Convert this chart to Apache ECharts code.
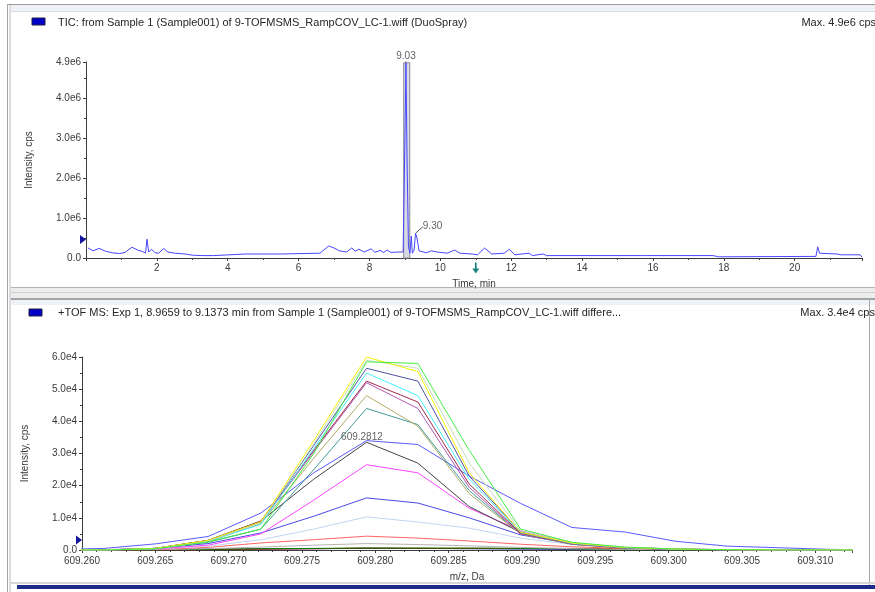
<!DOCTYPE html>
<html>
<head>
<meta charset="utf-8">
<script src="https://cdn.jsdelivr.net/npm/echarts@6/dist/echarts.min.js"></script>
<style>
html, body { margin: 0; padding: 0; background: #ffffff; }
#chart { width: 875px; height: 592px; }
</style>
</head>
<body>
<div id="chart"></div>
<script>
// ---- Total ion chromatogram (time in min, intensity in cps) ----
const ticTimes = [0.06, 0.2, 0.37, 0.55, 0.75, 0.95, 1.1, 1.3, 1.45, 1.6, 1.68, 1.72, 1.77, 1.85, 1.95, 2.05, 2.2, 2.3, 2.5, 2.8,
  3.0, 3.3, 3.6, 3.65, 4.5, 5.5, 5.55, 6.6, 6.85, 7.0, 7.15, 7.35, 7.5, 7.6, 7.7, 7.85, 8.05, 8.15, 8.3, 8.4,
  8.5, 8.6, 8.85, 8.95, 9.0, 9.03, 9.06, 9.1, 9.14, 9.18, 9.21, 9.26, 9.30, 9.34, 9.4, 9.6, 9.75, 9.9, 10.2, 10.4,
  10.55, 10.9, 11.05, 11.25, 11.45, 11.8, 11.95, 12.1, 12.5, 12.6, 12.9, 13.0, 15.7, 15.75, 15.8, 17.7, 17.85, 20.6, 20.65, 20.7,
  21.2, 21.3, 21.85, 21.9];
const ticIntensity = [250000, 180000, 240000, 170000, 130000, 110000, 140000, 270000, 200000, 160000, 120000, 470000, 150000, 220000, 130000, 120000, 240000, 150000, 120000, 100000,
  70000, 60000, 60000, 100000, 100000, 100000, 120000, 120000, 300000, 250000, 180000, 150000, 250000, 170000, 220000, 150000, 230000, 140000, 190000, 140000,
  200000, 140000, 150000, 150000, 3000000, 4880000, 2500000, 300000, 120000, 550000, 120000, 200000, 620000, 500000, 180000, 130000, 180000, 150000, 120000, 200000,
  120000, 100000, 80000, 250000, 100000, 120000, 220000, 80000, 120000, 60000, 100000, 60000, 60000, 110000, 60000, 60000, 30000, 40000, 280000, 120000,
  100000, 80000, 80000, 20000];

// Labelled TIC peaks
const ticPeakTimes = [9.03, 9.30];
const ticPeakHeights = [4880000, 620000];

// Averaged retention window for the spectrum below (min)
const integrationWindow = [8.9659, 9.1373];

// ---- Overlaid TOF MS spectra (m/z bins in Da, intensity in cps) ----
const mzBins = [609.2579, 609.2615, 609.2650, 609.2686, 609.2722, 609.2758, 609.2794, 609.2829, 609.2864,
  609.2899, 609.2934, 609.2970, 609.3005, 609.3040, 609.3075, 609.3110, 609.3145];

const scan01 = [0, 100, 200, 300, 300, 400, 500, 500, 400, 300, 200, 200, 100, 50, 50, 50, 0];
const scan02 = [0, 0, 0, 100, 300, 400, 600, 500, 500, 500, 500, 400, 100, 0, 0, 0, 0];
const scan03 = [0, 0, 0, 200, 400, 500, 600, 600, 600, 500, 400, 100, 0, 0, 0, 0, 0];
const scan04 = [0, 0, 100, 400, 900, 1500, 2000, 1700, 1300, 800, 400, 200, 80, 0, 0, 0, 0];
const scan05 = [0, 0, 200, 800, 2200, 3200, 4300, 3700, 2800, 1800, 1000, 500, 200, 50, 0, 0, 0];
const scan06 = [0, 0, 300, 1200, 3200, 6500, 10300, 8700, 6800, 3700, 1700, 700, 300, 100, 0, 0, 0];
const scan07 = [0, 100, 500, 2000, 5300, 10500, 16200, 14600, 10000, 4700, 2000, 800, 300, 100, 0, 0, 0];
const scan08 = [0, 0, 300, 1500, 5000, 15500, 26500, 24000, 13000, 6000, 2200, 800, 300, 100, 0, 0, 0];
const scan09 = [100, 500, 1900, 4200, 11500, 24000, 34000, 32800, 23000, 14500, 7000, 5600, 2700, 1200, 700, 200, 0];
const scan10 = [0, 0, 500, 3000, 9000, 22000, 33500, 27000, 13500, 5500, 1800, 600, 200, 80, 0, 0, 0];
const scan11 = [0, 0, 400, 2400, 6500, 25000, 44000, 39000, 18500, 5000, 1800, 600, 200, 80, 0, 0, 0];
const scan12 = [0, 0, 400, 2600, 8200, 28500, 48000, 38500, 17500, 5000, 1800, 600, 200, 80, 0, 0, 0];
const scan13 = [0, 0, 500, 2900, 8700, 30500, 52000, 44000, 19500, 5000, 1900, 650, 250, 80, 0, 0, 0];
const scan14 = [0, 0, 500, 3000, 9000, 31000, 52500, 46000, 20500, 5200, 1900, 700, 250, 80, 0, 0, 0];
const scan15 = [0, 0, 400, 2700, 8000, 31500, 55000, 48000, 22000, 5400, 2000, 700, 250, 80, 0, 0, 0];
const scan16 = [0, 0, 500, 2900, 8700, 32500, 56500, 52500, 23000, 5600, 2000, 700, 250, 80, 0, 0, 0];
const scan17 = [0, 0, 500, 2800, 8500, 33000, 59000, 56500, 27000, 6000, 2100, 800, 300, 100, 0, 0, 0];
const scan18 = [0, 0, 500, 3000, 8800, 34000, 60000, 55500, 24000, 5500, 2200, 800, 300, 100, 0, 0, 0];
const scan19 = [0, 0, 400, 2500, 6500, 30000, 58500, 58000, 31000, 6500, 2400, 900, 300, 100, 0, 0, 0];

// Centroid annotation of the spectrum
const centroidMz = [609.2812];
const centroidIntensity = [34000];

// ---- Text ----
const ticTitle = 'TIC: from Sample 1 (Sample001) of 9-TOFMSMS_RampCOV_LC-1.wiff (DuoSpray)';
const ticMaxText = 'Max. 4.9e6 cps';
const msTitle = '+TOF MS: Exp 1, ' + integrationWindow[0] + ' to ' + integrationWindow[1] +
  ' min from Sample 1 (Sample001) of 9-TOFMSMS_RampCOV_LC-1.wiff differe...';
const msMaxText = 'Max. 3.4e4 cps.';

// ---- Styling ----
const FONT = '"Liberation Sans", Arial, sans-serif';
const AXIS = '#3c3c3c';
const TXT = '#3a3a3a';
const TITLE = '#262626';
const scanColors = ['#101080', '#c00000', '#008000', '#b4b4b4', '#ff6464', '#c2d4f2', '#4a4ae6', '#ff44ff', '#5a5aff', '#444444',
  '#449a9a', '#b2aa66', '#b058b0', '#a02a50', '#44f0ff', '#5252a8', '#c4dcc4', '#f2f200', '#44ee44'];
const scans = [scan01, scan02, scan03, scan04, scan05, scan06, scan07, scan08, scan09, scan10,
  scan11, scan12, scan13, scan14, scan15, scan16, scan17, scan18, scan19];

function pairs(xs, ys) { return xs.map((x, i) => [x, ys[i]]); }

const labelStyle = { color: TXT, fontSize: 10, fontFamily: FONT };

function axisBase(extra) {
  return Object.assign({
    type: 'value',
    axisLine: { show: true, onZero: false, lineStyle: { color: AXIS, width: 1 } },
    axisTick: { show: true, length: 3, lineStyle: { color: AXIS } },
    minorTick: { show: true, splitNumber: 2, length: 2, lineStyle: { color: AXIS } },
    splitLine: { show: false },
    nameTextStyle: { color: TXT, fontSize: 10, fontFamily: FONT }
  }, extra);
}

const spectrumSeries = scans.map((s, i) => ({
  type: 'line',
  name: 'scan' + (i + 1),
  xAxisIndex: 1, yAxisIndex: 1,
  data: pairs(mzBins, s),
  symbol: 'none',
  clip: true,
  lineStyle: { color: scanColors[i], width: 1 },
  itemStyle: { color: scanColors[i] },
  silent: true,
  z: 3
}));

const chart = echarts.init(document.getElementById('chart'), null, { renderer: 'canvas' });

const option = {
  animation: false,
  backgroundColor: '#ffffff',
  grid: [
    { left: 86, right: 13, top: 62, bottom: 334, outerBoundsMode: 'none' },
    { left: 82, right: 23, top: 357, bottom: 42, outerBoundsMode: 'none' }
  ],
  xAxis: [
    axisBase({
      gridIndex: 0, min: 0, max: 21.9, interval: 2,
      axisLabel: Object.assign({ margin: 5, showMinLabel: false, showMaxLabel: false,
        formatter: v => String(v) }, labelStyle),
      name: 'Time, min', nameLocation: 'middle', nameGap: 21
    }),
    axisBase({
      gridIndex: 1, min: 609.26, max: 609.3125, interval: 0.005,
      minorTick: { show: true, splitNumber: 5, length: 2, lineStyle: { color: AXIS } },
      axisLabel: Object.assign({ margin: 6, showMaxLabel: false,
        formatter: v => v.toFixed(3) }, labelStyle),
      name: 'm/z, Da', nameLocation: 'middle', nameGap: 22
    })
  ],
  yAxis: [
    axisBase({
      gridIndex: 0, min: 0, max: 4900000, interval: 1000000,
      axisLabel: Object.assign({ margin: 5, showMaxLabel: true,
        formatter: v => v === 0 ? '0.0' : (v / 1e6).toFixed(1) + 'e6' }, labelStyle),
      name: 'Intensity, cps', nameLocation: 'middle', nameGap: 52, nameRotate: 90
    }),
    axisBase({
      gridIndex: 1, min: 0, max: 60000, interval: 10000,
      axisLabel: Object.assign({ margin: 5,
        formatter: v => v === 0 ? '0.0' : (v / 1e4).toFixed(1) + 'e4' }, labelStyle),
      name: 'Intensity, cps', nameLocation: 'middle', nameGap: 52, nameRotate: 90
    })
  ],
  series: [
    {
      type: 'line',
      name: 'TIC',
      xAxisIndex: 0, yAxisIndex: 0,
      data: pairs(ticTimes, ticIntensity),
      symbol: 'none',
      lineStyle: { color: '#4646ff', width: 1 },
      itemStyle: { color: '#4646ff' },
      silent: true,
      z: 3,
      markArea: {
        silent: true,
        itemStyle: { color: 'rgba(212,212,226,0.85)', borderColor: '#8c8c98', borderWidth: 1 },
        data: [[{ coord: [integrationWindow[0], 0] }, { coord: [integrationWindow[1], ticPeakHeights[0]] }]]
      },
      markPoint: {
        silent: true,
        label: { show: false },
        data: [
          { coord: [0, 460000], symbol: 'triangle', symbolSize: [9, 6], symbolRotate: -90,
            symbolOffset: [-3, 0], itemStyle: { color: '#14149c' } },
          { coord: [11.0, 0], symbol: 'path://M3,0 L5,0 L5,6 L8,6 L4,11 L0,6 L3,6 Z',
            symbolSize: [7, 11], symbolOffset: [0, 10], itemStyle: { color: '#1a8282' } }
        ]
      }
    },
    {
      type: 'scatter',
      name: 'TIC peak labels',
      xAxisIndex: 0, yAxisIndex: 0,
      data: pairs(ticPeakTimes, ticPeakHeights),
      symbolSize: 1,
      itemStyle: { color: 'rgba(0,0,0,0)' },
      silent: true,
      z: 5,
      label: Object.assign({ show: true, position: 'top', distance: 1,
        formatter: p => p.value[0].toFixed(2) }, labelStyle),
      labelLine: { show: true, lineStyle: { color: '#555555', width: 1 } },
      labelLayout: p => (p.dataIndex === 1 ? { dx: 17, dy: 0 } : {})
    }
  ].concat(spectrumSeries).concat([
    {
      type: 'line',
      name: 'scan markers',
      xAxisIndex: 1, yAxisIndex: 1,
      data: [],
      markPoint: {
        silent: true,
        label: { show: false },
        data: [
          { coord: [609.26, 3100], symbol: 'triangle', symbolSize: [9, 6], symbolRotate: -90,
            symbolOffset: [-3, 0], itemStyle: { color: '#14149c' } }
        ]
      }
    },
    {
      type: 'scatter',
      name: 'centroid',
      xAxisIndex: 1, yAxisIndex: 1,
      data: pairs(centroidMz, centroidIntensity),
      symbolSize: 1,
      itemStyle: { color: 'rgba(0,0,0,0)' },
      silent: true,
      z: 6,
      label: Object.assign({ show: true, position: 'top', distance: 0,
        formatter: p => p.value[0].toFixed(4) }, labelStyle),
      labelLayout: { dx: -31, dy: 2 }
    }
  ]),
  graphic: {
    elements: [
      // window frame: left rule
      { type: 'rect', z: -5, silent: true, shape: { x: 7, y: 4, width: 1, height: 588 }, style: { fill: '#a6a6a6' } },
      { type: 'rect', z: -5, silent: true, shape: { x: 9, y: 4, width: 2, height: 588 }, style: { fill: '#dcdcdc' } },
      // upper pane header
      { type: 'rect', z: -5, silent: true, shape: { x: 7, y: 4, width: 868, height: 1 }, style: { fill: '#9c9c9c' } },
      { type: 'rect', z: -5, silent: true, shape: { x: 11, y: 5, width: 864, height: 6 }, style: { fill: '#eef2f6' } },
      { type: 'rect', z: -5, silent: true, shape: { x: 11, y: 11, width: 864, height: 1 }, style: { fill: '#d8dde3' } },
      // splitter between panes
      { type: 'rect', z: -5, silent: true, shape: { x: 11, y: 287, width: 864, height: 12 }, style: { fill: '#ececec' } },
      { type: 'rect', z: -5, silent: true, shape: { x: 11, y: 287, width: 864, height: 1 }, style: { fill: '#b4b4b4' } },
      { type: 'rect', z: -5, silent: true, shape: { x: 11, y: 292, width: 864, height: 1 }, style: { fill: '#d0d0d0' } },
      { type: 'rect', z: -5, silent: true, shape: { x: 11, y: 298, width: 864, height: 2 }, style: { fill: '#a4a4a4' } },
      { type: 'rect', z: -5, silent: true, shape: { x: 11, y: 300, width: 864, height: 5 }, style: { fill: '#eef2f6' } },
      // lower pane right edge and bottom bar
      { type: 'rect', z: -5, silent: true, shape: { x: 869, y: 300, width: 1, height: 286 }, style: { fill: '#a8a8a8' } },
      { type: 'rect', z: -5, silent: true, shape: { x: 11, y: 582, width: 864, height: 2 }, style: { fill: '#d6d6d6' } },
      { type: 'rect', z: -5, silent: true, shape: { x: 17, y: 585, width: 858, height: 4 }, style: { fill: '#1e2a88' } },
      // legend swatches
      { type: 'rect', z: 10, silent: true, shape: { x: 32, y: 18, width: 13, height: 7 },
        style: { fill: '#0000c8', stroke: '#202040', lineWidth: 1 } },
      { type: 'rect', z: 10, silent: true, shape: { x: 29, y: 309, width: 13, height: 7 },
        style: { fill: '#0000c8', stroke: '#202040', lineWidth: 1 } },
      // pane titles
      { type: 'text', z: 10, silent: true, x: 58, y: 23,
        style: { text: ticTitle, fill: TITLE, fontSize: 11, fontFamily: FONT, verticalAlign: 'middle' } },
      { type: 'text', z: 10, silent: true, x: 876, y: 23,
        style: { text: ticMaxText, fill: TITLE, fontSize: 11, fontFamily: FONT, align: 'right', verticalAlign: 'middle' } },
      { type: 'text', z: 10, silent: true, x: 58, y: 313,
        style: { text: msTitle, fill: TITLE, fontSize: 11, fontFamily: FONT, verticalAlign: 'middle' } },
      { type: 'text', z: 10, silent: true, x: 878, y: 313,
        style: { text: msMaxText, fill: TITLE, fontSize: 11, fontFamily: FONT, align: 'right', verticalAlign: 'middle' } }
    ]
  }
};

chart.setOption(option);
</script>
</body>
</html>
